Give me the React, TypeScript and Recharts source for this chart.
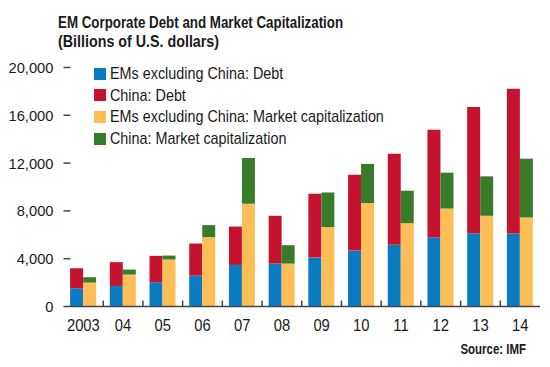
import React from 'react';
import { BarChart, Bar, XAxis, YAxis, Legend } from 'recharts';

const years = ['2003', '04', '05', '06', '07', '08', '09', '10', '11', '12', '13', '14'];
const emDebt = [1530, 1720, 2030, 2580, 3480, 3590, 4090, 4680, 5160, 5800, 6140, 6100];
const chinaDebt = [1670, 1990, 2210, 2690, 3210, 4000, 5340, 6350, 7630, 9000, 10560, 12120];
const emMcap = [2000, 2670, 3930, 5800, 8600, 3590, 6640, 8650, 6980, 8200, 7590, 7450];
const chinaMcap = [450, 420, 330, 1010, 3830, 1540, 2900, 3280, 2710, 3000, 3300, 4920];
const yTicks = [0, 4000, 8000, 12000, 16000, 20000];
const rightTicks = [4000, 8000, 12000, 16000, 20000];

const seriesKeys = ['emDebt', 'chinaDebt', 'emMcap', 'chinaMcap'];
const seriesNames = [
  'EMs excluding China: Debt',
  'China: Debt',
  'EMs excluding China: Market capitalization',
  'China: Market capitalization',
];
const colors = ['#0a7bc1', '#c4122f', '#fdbd57', '#377b2b'];

const data = years.map((y, i) => ({
  year: y,
  emDebt: emDebt[i],
  chinaDebt: chinaDebt[i],
  emMcap: emMcap[i],
  chinaMcap: chinaMcap[i],
}));

const FONT = "'Liberation Sans', Arial, sans-serif";
const TEXT = '#1a1a1a';

const fmt = (v: number) => v.toLocaleString('en-US');

const LeftTick = (props: any) => {
  const { x, y, payload } = props;
  return (
    <g>
      <text
        transform={`translate(${x - 10} ${y}) scale(0.95 1)`}
        x={0}
        y={0}
        dy="0.36em"
        textAnchor="end"
        fontFamily={FONT}
        fontSize={15.5}
        fill={TEXT}
      >
        {fmt(payload.value)}
      </text>
      {payload.value !== 0 && <line x1={x} x2={x + 7} y1={y} y2={y} stroke="#444" strokeWidth={1.5} />}
    </g>
  );
};

const RightTick = (props: any) => {
  const { x, y } = props;
  return <line x1={x - 7} x2={x} y1={y} y2={y} stroke="#444" strokeWidth={1.5} />;
};

const XTick = (props: any) => {
  const { x, y, payload, index } = props;
  const half = typeof payload.offset === 'number' && payload.offset > 0 ? payload.offset : 20;
  return (
    <g>
      <text
        transform={`translate(${x} ${y + 24.5}) scale(0.87 1)`}
        x={0}
        y={0}
        textAnchor="middle"
        fontFamily={FONT}
        fontSize={17}
        fill={TEXT}
      >
        {payload.value}
      </text>
      {index < years.length - 1 && (
        <line x1={x + half} x2={x + half} y1={y - 6} y2={y} stroke="#444" strokeWidth={1.5} />
      )}
    </g>
  );
};

const LegendContent = (props: any) => {
  const payload = (props.payload || []).slice();
  payload.sort((a: any, b: any) => seriesKeys.indexOf(a.dataKey) - seriesKeys.indexOf(b.dataKey));
  return (
    <div style={{ fontFamily: FONT, fontSize: 17, color: TEXT, width: 320 }}>
      {payload.map((p: any, i: number) => (
        <div key={i} style={{ position: 'relative', height: 21.7, whiteSpace: 'nowrap' }}>
          <span
            style={{ position: 'absolute', left: 0, top: 4.8, width: 12, height: 12, background: p.color }}
          />
          <span
            style={{
              position: 'absolute',
              left: 16,
              top: 0,
              lineHeight: '21.7px',
              transform: 'scaleX(0.845)',
              transformOrigin: 'left center',
            }}
          >
            {p.value}
          </span>
        </div>
      ))}
    </div>
  );
};

const titleLine = (text: string, sx: number) => (
  <div style={{ transform: `scaleX(${sx})`, transformOrigin: 'left top', whiteSpace: 'nowrap' }}>{text}</div>
);

export default function App() {
  return (
    <div style={{ position: 'absolute', left: 0, top: 0, width: 550, height: 367, background: '#fff' }}>
      <div
        style={{
          position: 'absolute',
          left: 58,
          top: 13,
          fontFamily: FONT,
          fontWeight: 'bold',
          fontSize: 17,
          lineHeight: '19px',
          color: TEXT,
        }}
      >
        {titleLine('EM Corporate Debt and Market Capitalization', 0.784)}
        {titleLine('(Billions of U.S. dollars)', 0.84)}
      </div>
      <BarChart
        width={550}
        height={367}
        data={data}
        margin={{ top: 67.5, right: 10, bottom: 30.5, left: 0 }}
        barCategoryGap="16.6%"
        barGap={0}
      >
        <XAxis
          dataKey="year"
          height={30}
          interval={0}
          tickSize={0}
          tickMargin={0}
          tickLine={false}
          axisLine={{ stroke: '#444', strokeWidth: 1.5 }}
          tick={<XTick />}
        />
        <YAxis
          yAxisId="l"
          width={63.5}
          domain={[0, 20000]}
          ticks={yTicks}
          interval={0}
          tickSize={0}
          tickMargin={0}
          tickLine={false}
          axisLine={false}
          tick={<LeftTick />}
        />
        <YAxis
          yAxisId="r"
          orientation="right"
          width={0}
          domain={[0, 20000]}
          ticks={rightTicks}
          interval={0}
          tickSize={0}
          tickMargin={0}
          tickLine={false}
          axisLine={false}
          tick={<RightTick />}
        />
        <Legend
          layout="horizontal"
          verticalAlign="middle"
          align="center"
          content={<LegendContent />}
          wrapperStyle={{ position: 'absolute', left: 94, top: 63, width: 'auto', height: 'auto' }}
        />
        {seriesKeys.map((k, i) => (
          <Bar
            key={k}
            yAxisId="l"
            dataKey={k}
            name={seriesNames[i]}
            stackId={i < 2 ? 'debt' : 'mcap'}
            fill={colors[i]}
            isAnimationActive={false}
          />
        ))}
      </BarChart>
      <div
        style={{
          position: 'absolute',
          right: 24,
          top: 341,
          fontFamily: FONT,
          fontWeight: 'bold',
          fontSize: 14,
          color: TEXT,
          whiteSpace: 'nowrap',
          transform: 'scaleX(0.82)',
          transformOrigin: 'right top',
        }}
      >
        Source: IMF
      </div>
    </div>
  );
}
